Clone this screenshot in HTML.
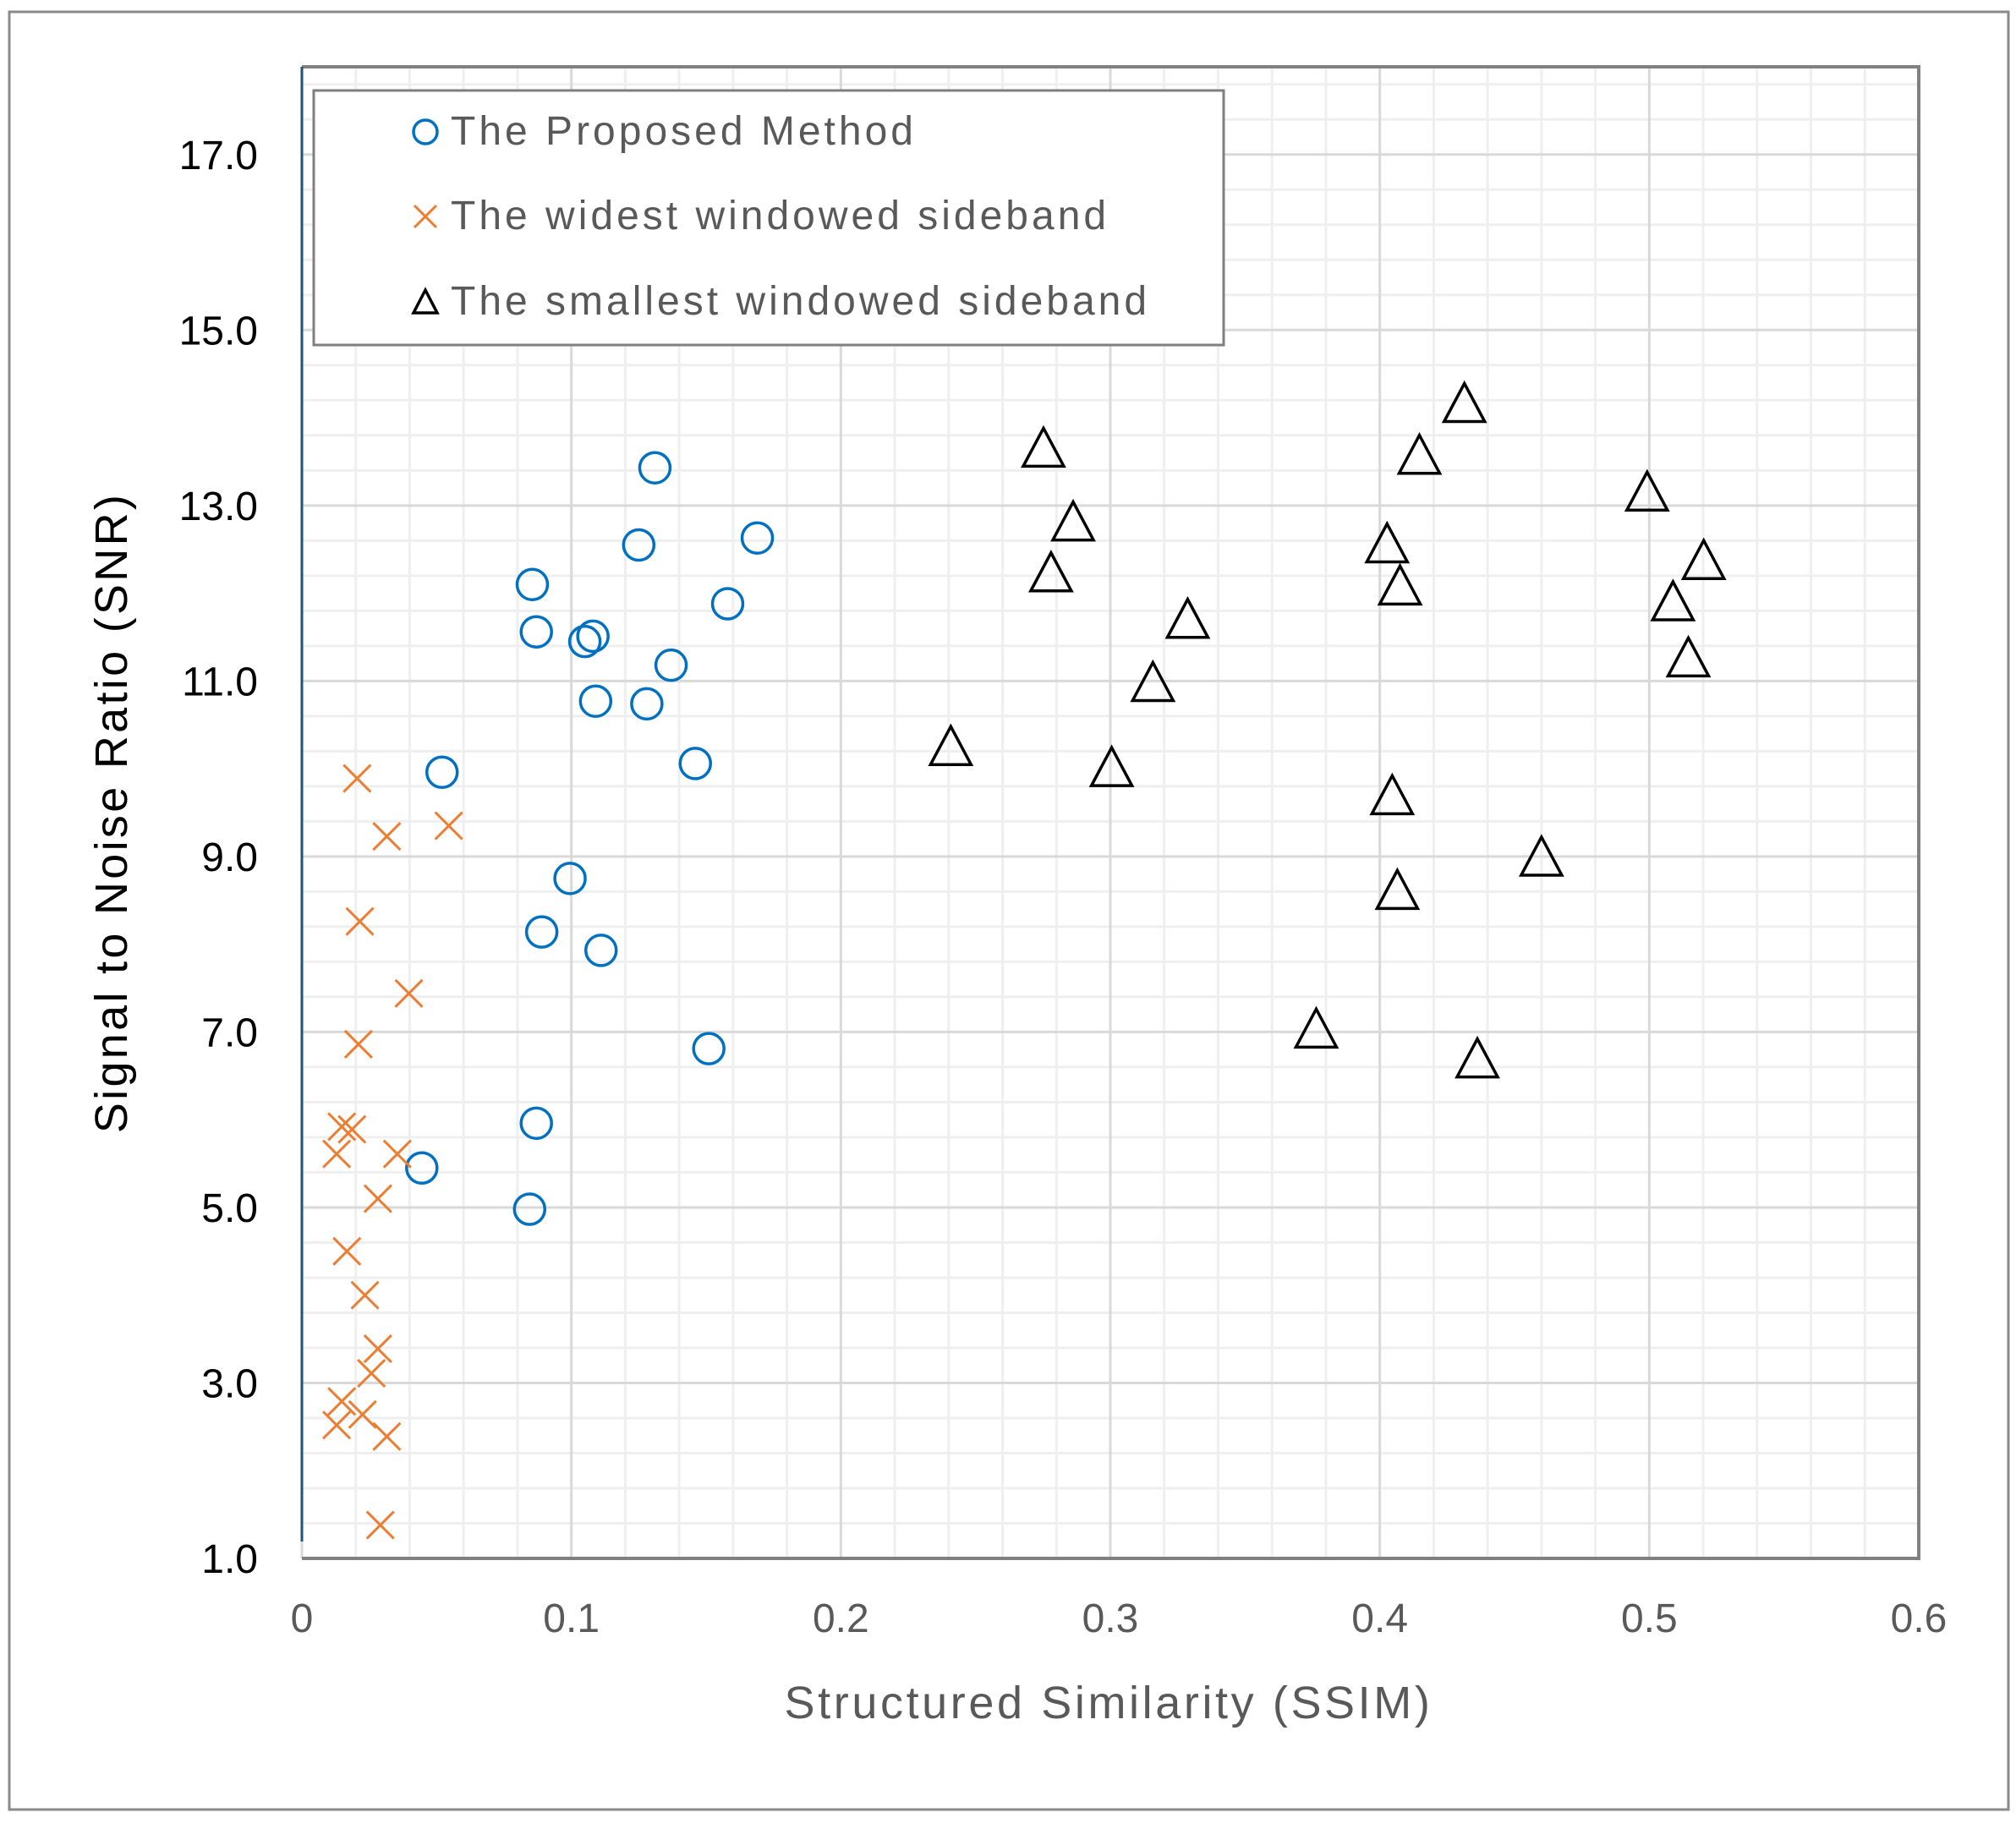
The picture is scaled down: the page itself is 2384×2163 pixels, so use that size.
<!DOCTYPE html>
<html><head><meta charset="utf-8"><style>
html,body{margin:0;padding:0;background:#fff}
svg{display:block}
text{font-family:"Liberation Sans","Noto Sans CJK JP",sans-serif}
</style></head><body>
<svg id="chart" width="2384" height="2163" viewBox="0 0 2384 2163" xmlns="http://www.w3.org/2000/svg">
<rect x="11" y="14" width="2364" height="2126" fill="#fff" stroke="#8a8a8a" stroke-width="3"/>
<g id="grid"></g>
<g id="axes"></g>
<g id="marks"></g>
<text x="1311" y="2032" text-anchor="middle" font-size="54" fill="#595959" letter-spacing="3.6">Structured Similarity (SSIM)</text>
<text transform="translate(150,961) rotate(-90)" text-anchor="middle" font-size="54" fill="#000" letter-spacing="3.3">Signal to Noise Ratio (SNR)</text>
<g>
<rect x="371" y="107" width="1076" height="301" fill="#fff" stroke="#7f7f7f" stroke-width="3"/>
<circle cx="503" cy="156" r="14" fill="none" stroke="#0070c0" stroke-width="3.5"/>
<text x="533" y="171" font-size="48" fill="#595959" letter-spacing="4">The Proposed Method</text>
<path d="M490 243 L516 269 M516 243 L490 269" stroke="#ed7d31" stroke-width="3"/>
<text x="533" y="271" font-size="48" fill="#595959" letter-spacing="4">The widest windowed sideband</text>
<path d="M503 343 L517 370 L489 370 Z" fill="none" stroke="#000" stroke-width="3.5"/>
<text x="533" y="372" font-size="48" fill="#595959" letter-spacing="4">The smallest windowed sideband</text>
</g>
</svg>
<script>
const xTicks = [0, 0.1, 0.2, 0.3, 0.4, 0.5, 0.6];
const xTickLabels = ["0", "0.1", "0.2", "0.3", "0.4", "0.5", "0.6"];
const yTicks = [1, 3, 5, 7, 9, 11, 13, 15, 17];
const yTickLabels = ["1.0", "3.0", "5.0", "7.0", "9.0", "11.0", "13.0", "15.0", "17.0"];
const proposedX = [0.131,0.125,0.169,0.0855,0.158,0.087,0.105,0.108,0.137,0.109,0.128,0.052,0.146,0.0995,0.089,0.111,0.151,0.087,0.0445,0.0845];
const proposedY = [13.43,12.55,12.63,12.10,11.88,11.56,11.45,11.51,11.18,10.77,10.74,9.96,10.06,8.75,8.14,7.93,6.81,5.96,5.45,4.98];
const widestX = [0.0205,0.0315,0.0545,0.0215,0.0397,0.021,0.0148,0.0186,0.0129,0.0354,0.0282,0.0167,0.0234,0.0282,0.0258,0.0148,0.0129,0.0225,0.0315,0.0291];
const widestY = [9.89,9.23,9.35,8.26,7.44,6.86,5.92,5.89,5.61,5.61,5.10,4.50,4.00,3.39,3.11,2.79,2.52,2.64,2.39,1.38];
const smallestX = [0.2752,0.2862,0.278,0.4314,0.4147,0.4027,0.4075,0.4992,0.5202,0.5088,0.5145,0.3287,0.3158,0.2408,0.3005,0.4046,0.46,0.4065,0.3764,0.4362];
const smallestY = [13.64,12.80,12.22,14.15,13.56,12.55,12.07,13.14,12.36,11.89,11.25,11.69,10.97,10.24,10.00,9.68,8.98,8.60,7.02,6.68];

const L=357,R=2269,T=79,B=1843,XMIN=0,XMAX=0.6,YMIN=1,YMAX=18;
function sx(v){return L+(v-XMIN)/(XMAX-XMIN)*(R-L);}
function sy(v){return B-(v-YMIN)/(YMAX-YMIN)*(B-T);}
const NS="http://www.w3.org/2000/svg";
function mk(tag,attrs,parent){const e=document.createElementNS(NS,tag);for(const k in attrs)e.setAttribute(k,attrs[k]);parent.appendChild(e);return e;}
const grid=document.getElementById('grid'),axes=document.getElementById('axes'),marks=document.getElementById('marks');
for(let i=0;i<=30;i++){const v=i*0.02;if(i%5===0)continue;
 const l=mk('line',{x1:sx(v),x2:sx(v),y1:T,y2:B,stroke:'#efefef','stroke-width':3},grid);
 
 }
for(let i=0;i<=42;i++){const v=1+i*0.4;if(v>18)break;if(i%5===0)continue;
 const l=mk('line',{x1:L,x2:R,y1:sy(v),y2:sy(v),stroke:'#efefef','stroke-width':3},grid);
 
 }
xTicks.forEach((v,i)=>{
 const l=mk('line',{x1:sx(v),x2:sx(v),y1:T,y2:B,stroke:'#d9d9d9','stroke-width':3},grid);
 
 
 const t=mk('text',{x:sx(v),y:1930,'text-anchor':'middle','font-size':48,fill:'#595959'},axes);
 t.textContent=xTickLabels[i];
 
 });
yTicks.forEach((v,i)=>{
 const l=mk('line',{x1:L,x2:R,y1:sy(v),y2:sy(v),stroke:'#d9d9d9','stroke-width':3},grid);
 
 
 const t=mk('text',{x:305,y:sy(v)+17,'text-anchor':'end','font-size':48,fill:'#000'},axes);
 t.textContent=yTickLabels[i];
 
 });
let f=mk('path',{d:`M${L} ${T} L${R} ${T} L${R} ${B} L${L} ${B}`,fill:'none',stroke:'#808080','stroke-width':4},axes);


let ya=mk('line',{x1:L,x2:L,y1:T,y2:B-20,stroke:'#1f5378','stroke-width':3},axes);


proposedX.forEach((v,i)=>{
 const c=mk('circle',{cx:sx(v),cy:sy(proposedY[i]),r:18,fill:'none',stroke:'#0070c0','stroke-width':3.5},marks);
 
 });
widestX.forEach((v,i)=>{
 const x=sx(v),y=sy(widestY[i]),s=16;
 const p=mk('path',{d:`M${x-s} ${y-s} L${x+s} ${y+s} M${x+s} ${y-s} L${x-s} ${y+s}`,stroke:'#ed7d31','stroke-width':3},marks);
 
 });
smallestX.forEach((v,i)=>{
 const x=sx(v),y=sy(smallestY[i]);
 const p=mk('path',{d:`M${x} ${y-25} L${x+24} ${y+20} L${x-24} ${y+20} Z`,fill:'none',stroke:'#000','stroke-width':3.5},marks);
 
 });
</script>
</body></html>
